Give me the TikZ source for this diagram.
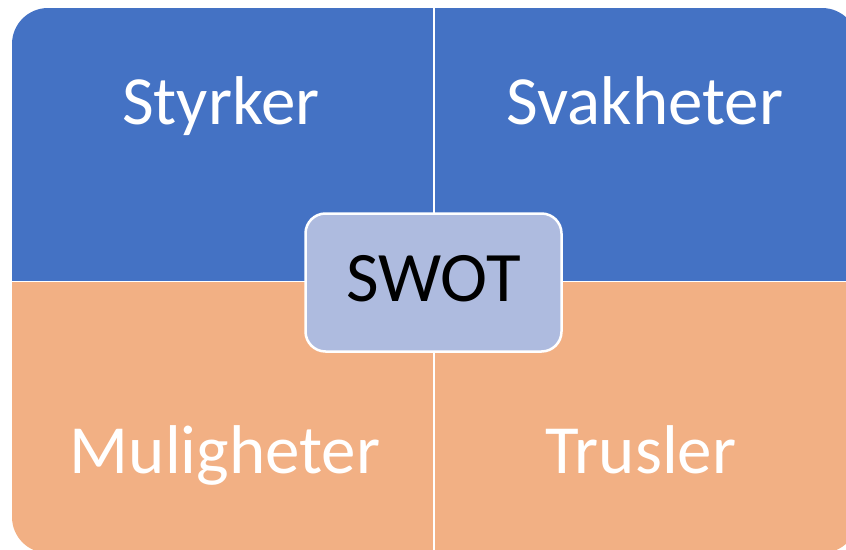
\documentclass[tikz,border=0pt]{standalone}
\usepackage{fontspec}
\setmainfont{Carlito}
\definecolor{swotblue}{HTML}{4472C4}
\definecolor{swotorange}{HTML}{F2B084}
\definecolor{swotcore}{HTML}{AEBBDF}
\tikzset{
  quadlabel/.style={text=white, anchor=base, inner sep=0pt, font=\fontsize{69}{69}\selectfont},
  corebox/.style={draw=white, line width=2.5pt, fill=swotcore, rounded corners=20pt,
    minimum width=256pt, minimum height=138pt, inner sep=0pt,
    text height=46.5pt, text depth=9.5pt,
    font=\fontsize{71}{71}\selectfont, text=black},
}
\begin{document}
\begin{tikzpicture}[x=1pt,y=-1pt]
  \clip (0,0) rectangle (846,549);
  % the four quadrants share one rounded outline, split by thin white gaps
  \begin{scope}
    \clip (0,0) rectangle (432.8,280.3);
    \fill[swotblue, rounded corners=36pt] (12,8) rectangle (858,553);
  \end{scope}
  \begin{scope}
    \clip (435.2,0) rectangle (870,280.3);
    \fill[swotblue, rounded corners=36pt] (12,8) rectangle (858,553);
  \end{scope}
  \begin{scope}
    \clip (0,282.8) rectangle (432.8,560);
    \fill[swotorange, rounded corners=36pt] (12,8) rectangle (858,553);
  \end{scope}
  \begin{scope}
    \clip (435.2,282.8) rectangle (870,560);
    \fill[swotorange, rounded corners=36pt] (12,8) rectangle (858,553);
  \end{scope}
  % quadrant labels
  \node[quadlabel] (strengths) at (221,124) {Styrker};
  \node[quadlabel] (weaknesses) at (645,124) {Svakheter};
  \node[quadlabel] (opportunities) at (225,473) {Muligheter};
  \node[quadlabel] (threats) at (641,473) {Trusler};
  % centre box
  \node[corebox] (swot) at (433.5,282.5) {SWOT};
\end{tikzpicture}
\end{document}
